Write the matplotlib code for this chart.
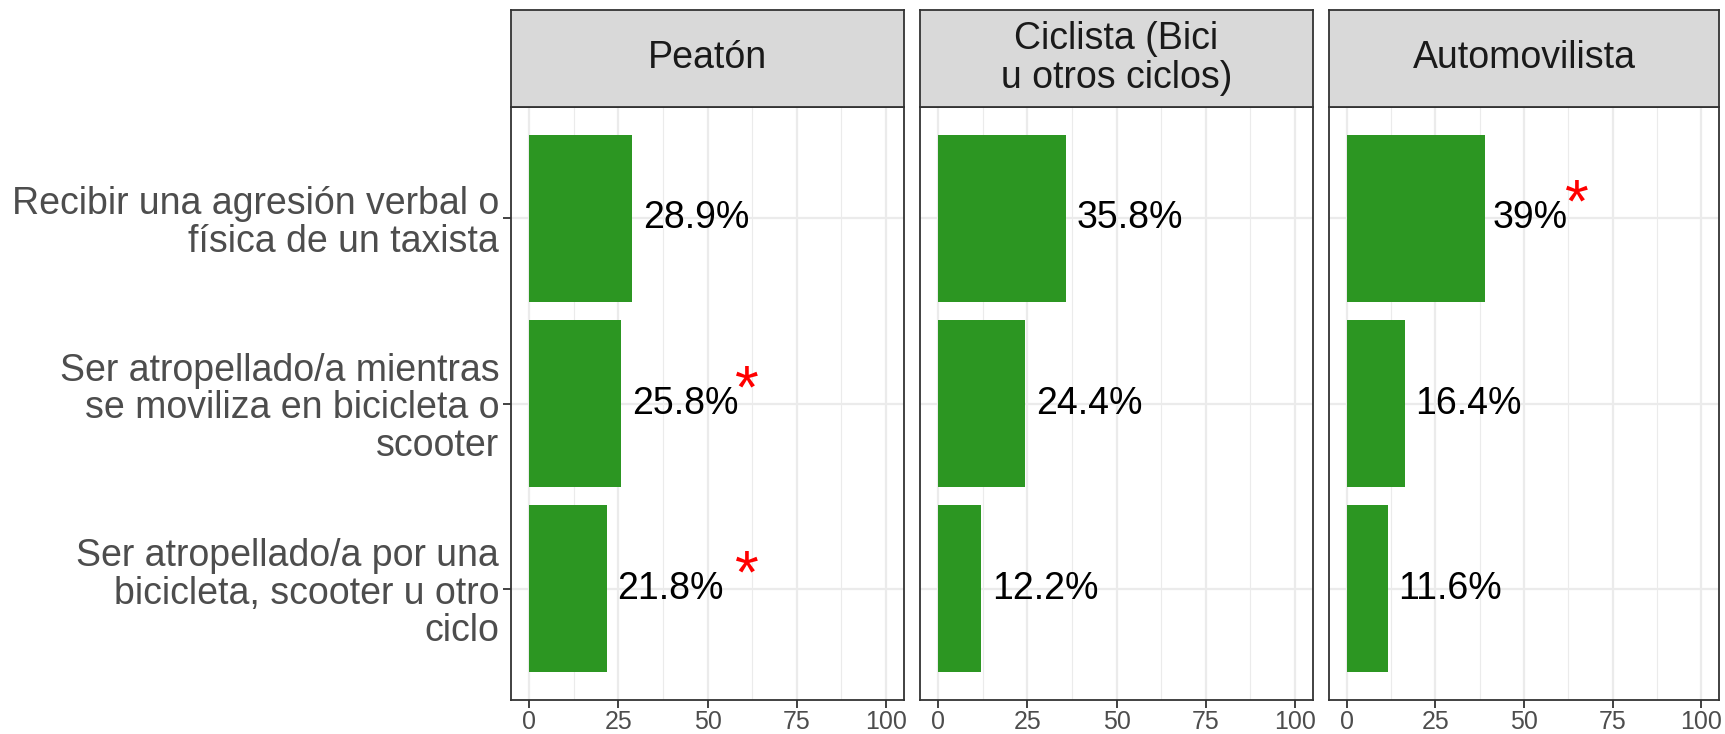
import matplotlib
matplotlib.use("Agg")
import matplotlib.pyplot as plt
import matplotlib.transforms as mtransforms
from matplotlib.ticker import MultipleLocator

plt.rcParams['font.family'] = ['Liberation Sans', 'DejaVu Sans']

panels = ["Peatón", "Ciclista (Bici\nu otros ciclos)", "Automovilista"]
categories = [
    "Recibir una agresión verbal o\nfísica de un taxista",
    "Ser atropellado/a mientras\nse moviliza en bicicleta o\nscooter",
    "Ser atropellado/a por una\nbicicleta, scooter u otro\nciclo",
]
values_peaton = [28.9, 25.8, 21.8]
values_ciclista = [35.8, 24.4, 12.2]
values_auto = [39.0, 16.4, 11.6]
labels_peaton = ["28.9%", "25.8%", "21.8%"]
labels_ciclista = ["35.8%", "24.4%", "12.2%"]
labels_auto = ["39%", "16.4%", "11.6%"]
# significance stars: (category index, x position of star)
stars_peaton = [(1, 61.0), (2, 61.0)]
stars_ciclista = []
stars_auto = [(0, 65.0)]

all_values = [values_peaton, values_ciclista, values_auto]
all_labels = [labels_peaton, labels_ciclista, labels_auto]
all_stars = [stars_peaton, stars_ciclista, stars_auto]

W, H, DPI = 1725, 734, 100
fig = plt.figure(figsize=(W / DPI, H / DPI), dpi=DPI)
fig.patch.set_facecolor("white")

lefts = [511, 920, 1329]
rights = [904, 1313, 1719]
top_px, bottom_px = 107, 700
strip_top = 10

BAR = "#2C9622"
BORDER = "#333333"
GRID = "#EBEBEB"

axes = []
for p in range(3):
    l, r = lefts[p], rights[p]
    ax = fig.add_axes([l / W, 1 - bottom_px / H, (r - l) / W, (bottom_px - top_px) / H])
    axes.append(ax)
    ys = list(range(len(categories)))
    ax.barh(ys, all_values[p], height=0.9, color=BAR, zorder=3)
    ax.set_xlim(-5, 105)
    ax.set_ylim(2.6, -0.6)
    ax.xaxis.set_major_locator(MultipleLocator(25))
    ax.xaxis.set_minor_locator(MultipleLocator(12.5))
    ax.set_yticks(ys)
    ax.grid(which="major", axis="both", color=GRID, linewidth=1.6, zorder=0)
    ax.grid(which="minor", axis="x", color=GRID, linewidth=0.8, zorder=0)
    ax.set_axisbelow(True)
    for s in ax.spines.values():
        s.set_color(BORDER)
        s.set_linewidth(1.3)
        s.set_zorder(5)
    ax.tick_params(axis="x", which="major", length=5.5, width=1.3, color=BORDER,
                   labelsize=18, labelcolor="#4D4D4D", pad=2)
    ax.tick_params(axis="x", which="minor", length=0)
    if p == 0:
        ax.set_yticklabels(categories, fontsize=27, color="#4D4D4D", linespacing=1.06)
        ax.tick_params(axis="y", length=5.5, width=1.3, color=BORDER, pad=3)
    else:
        ax.tick_params(axis="y", length=0, labelleft=False)

    # strip
    sax = fig.add_axes([l / W, 1 - top_px / H, (r - l) / W, (top_px - strip_top) / H])
    sax.set_facecolor("#D9D9D9")
    sax.set_xticks([])
    sax.set_yticks([])
    for s in sax.spines.values():
        s.set_color(BORDER)
        s.set_linewidth(1.3)
    sax.text(0.5, 0.5, panels[p], ha="center", va="center", fontsize=27,
             color="#1A1A1A", linespacing=1.1, transform=sax.transAxes)

fig.canvas.draw()
renderer = fig.canvas.get_renderer()
for p, ax in enumerate(axes):
    for i, (v, lab) in enumerate(zip(all_values[p], all_labels[p])):
        t = ax.text(v, i, lab, ha="left", va="center", fontsize=27, color="black", zorder=4)
        w = t.get_window_extent(renderer).width
        t.set_transform(mtransforms.offset_copy(ax.transData, fig=fig, x=0.1 * w, y=0, units="dots"))
    for (i, sx) in all_stars[p]:
        ax.text(sx, i + 0.02, "*", ha="center", va="baseline", fontsize=44,
                color="#FF0000", zorder=4)

fig.savefig("out.png", dpi=DPI)
